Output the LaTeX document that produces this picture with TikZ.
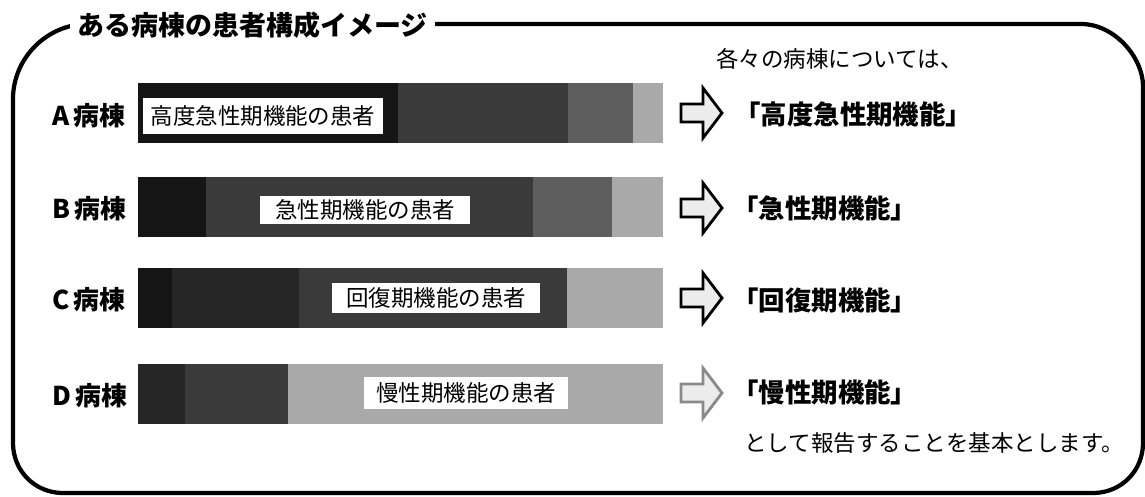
\documentclass[tikz,border=0pt]{standalone}
\usepackage{fontspec}
\usepackage{xcolor}
\usepackage{tikz}
\usetikzlibrary{calc}
\newfontfamily\jp{Noto Sans CJK JP}
\definecolor{ink}{HTML}{000000}
\definecolor{shK}{HTML}{151515}
\definecolor{shX}{HTML}{262626}
\definecolor{shD}{HTML}{3A3A3A}
\definecolor{shM}{HTML}{5E5E5E}
\definecolor{shL}{HTML}{A9A9A9}
\definecolor{pale}{HTML}{ECECEC}
\definecolor{dim}{HTML}{8A8A8A}
\tikzset{
  frame/.style={draw=ink, line width=3pt, line join=round},
  ttl/.style={fill=white, inner xsep=5pt, inner ysep=1pt, text=ink, font=\jp\bfseries\fontsize{19.2}{21}\selectfont},
  ward/.style={inner sep=0pt, text=ink, font=\jp\bfseries\fontsize{18.4}{20}\selectfont},
  tag/.style={fill=white, inner sep=0pt, text=ink, font=\jp\fontsize{16}{18}\selectfont},
  func/.style={inner sep=0pt, text=ink, font=\jp\bfseries\fontsize{18.8}{20}\selectfont},
  note/.style={inner sep=0pt, text=ink, font=\jp\fontsize{16}{18}\selectfont},
  hollow/.style={draw=ink, fill=pale, line width=2pt, line join=miter},
}
\begin{document}
\begin{tikzpicture}[x=0.025cm,y=-0.025cm]
  \useasboundingbox (0,0) rectangle (1145,496);

  \draw[frame] (13,260) -- (13,99) .. controls (13,58) and (47,24) .. (88,24)
    -- (1081,24) .. controls (1115,24) and (1143,58) .. (1143,86)
    -- (1143,443) .. controls (1143,471) and (1121,493) .. (1093,493)
    -- (63,493) .. controls (35,493) and (13,471) .. (13,443) -- cycle;
  \node[ttl,anchor=west] (title) at (70,25) {ある病棟の患者構成イメージ};
  \node[note,anchor=west] (intro) at (716,59) {各々の病棟については、};

  % bars
  \foreach \a/\b/\c in {138/398/shK,398/568/shD,568/633/shM,633/663/shL}
    \fill[\c] (\a,83) rectangle (\b,143);
  \foreach \a/\b/\c in {138/206/shK,206/533/shD,533/612/shM,612/663/shL}
    \fill[\c] (\a,177) rectangle (\b,237);
  \foreach \a/\b/\c in {138/172/shK,172/299/shX,299/567/shD,567/663/shL}
    \fill[\c] (\a,268) rectangle (\b,328);
  \foreach \a/\b/\c in {138/185/shX,185/288/shD,288/663/shL}
    \fill[\c] (\a,364) rectangle (\b,424);

  \node[ward,anchor=west] (wardA) at (52,116) {A\kern3pt病棟};
  \node[ward,anchor=west] (wardB) at (52,209) {B\kern3pt病棟};
  \node[ward,anchor=west] (wardC) at (52,300) {C\kern3pt病棟};
  \node[ward,anchor=west] (wardD) at (52,396) {D\kern3pt病棟};

  \node[tag,minimum width=6cm,minimum height=0.9cm] (tagA) at (263,116) {高度急性期機能の患者};
  \node[tag,minimum width=5.25cm,minimum height=0.7cm] (tagB) at (365,210) {急性期機能の患者};
  \node[tag,minimum width=5.2cm,minimum height=0.75cm] (tagC) at (436,298) {回復期機能の患者};
  \node[tag,minimum width=5.08cm,minimum height=0.8cm] (tagD) at (466,393) {慢性期機能の患者};

  % arrows
  \foreach \y/\c in {113/ink,208/ink,298/ink,393/dim}
    \draw[hollow,draw=\c] (681,\y-9) -- (703,\y-9) -- (703,\y-25) -- (722,\y)
      -- (703,\y+25) -- (703,\y+9) -- (681,\y+9) -- cycle;

  \node[func,anchor=west] (funcA) at (734,114) {「高度急性期機能」};
  \node[func,anchor=west] (funcB) at (732,208) {「急性期機能」};
  \node[func,anchor=west] (funcC) at (732,300) {「回復期機能」};
  \node[func,anchor=west] (funcD) at (732,392) {「慢性期機能」};
  \node[note,anchor=west] (outro) at (744,443) {として報告することを基本とします。};
\end{tikzpicture}
\end{document}
